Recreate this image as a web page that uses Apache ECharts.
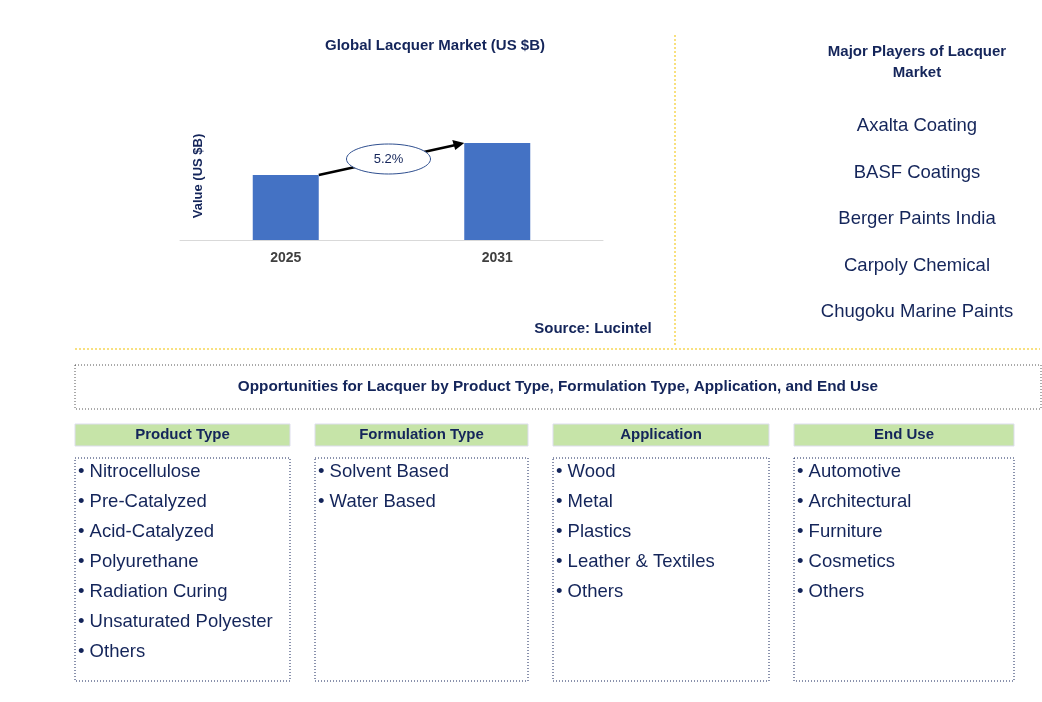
<!DOCTYPE html>
<html><head><meta charset="utf-8">
<script src="https://cdn.jsdelivr.net/npm/echarts@6/dist/echarts.min.js"></script>
<style>html,body{margin:0;padding:0;background:#fff}#c{width:1042px;height:702px}</style>
</head><body><div id="c"></div>
<script>
const years = ['2025','2031'];
const values = [6.5, 9.7];
const cagr = '5.2%';
const players = ['Axalta Coating','BASF Coatings','Berger Paints India','Carpoly Chemical','Chugoku Marine Paints'];
const headers = ['Product Type','Formulation Type','Application','End Use'];
const lists = [
 ['Nitrocellulose','Pre-Catalyzed','Acid-Catalyzed','Polyurethane','Radiation Curing','Unsaturated Polyester','Others'],
 ['Solvent Based','Water Based'],
 ['Wood','Metal','Plastics','Leather & Textiles','Others'],
 ['Automotive','Architectural','Furniture','Cosmetics','Others']
];
const F = 'Arial, "Liberation Sans", sans-serif';
const navy = '#14255a';
const chart = echarts.init(document.getElementById('c'));
const cols = [[75,290],[315,528],[553,769],[794,1014]];
const g = [];
g.push({type:'text',style:{x:435,y:46,text:'Global Lacquer Market (US $B)',font:'bold 15px '+F,fill:navy,align:'center',verticalAlign:'middle'}});
g.push({type:'text',style:{x:593,y:329,text:'Source: Lucintel',font:'bold 15px '+F,fill:navy,align:'center',verticalAlign:'middle'}});
g.push({type:'line',shape:{x1:675,y1:35,x2:675,y2:345},style:{stroke:'#f2c200',lineDash:[2,2],lineWidth:1}});
g.push({type:'line',shape:{x1:75,y1:349,x2:1040,y2:349},style:{stroke:'#f2c200',lineDash:[2,2],lineWidth:1}});
g.push({type:'text',style:{x:917,y:62,text:'Major Players of Lacquer\nMarket',font:'bold 15px '+F,fill:navy,align:'center',verticalAlign:'middle',lineHeight:21}});
players.forEach((p,i)=>g.push({type:'text',style:{x:917,y:126+i*46.5,text:p,font:'18.5px '+F,fill:navy,align:'center',verticalAlign:'middle'}}));
g.push({type:'rect',shape:{x:75,y:365,width:966,height:44},style:{fill:'none',stroke:'#555',lineDash:[1,2],lineWidth:1}});
g.push({type:'text',style:{x:558,y:387,text:'Opportunities for Lacquer by Product Type, Formulation Type, Application, and End Use',font:'bold 15.3px '+F,fill:navy,align:'center',verticalAlign:'middle'}});
cols.forEach((c,i)=>{
 g.push({type:'rect',shape:{x:c[0],y:424,width:c[1]-c[0],height:22},style:{fill:'#c6e4a8',stroke:'#dde',lineWidth:1}});
 g.push({type:'text',style:{x:(c[0]+c[1])/2,y:435,text:headers[i],font:'bold 15px '+F,fill:navy,align:'center',verticalAlign:'middle'}});
 g.push({type:'rect',shape:{x:c[0],y:458,width:c[1]-c[0],height:223},style:{fill:'none',stroke:navy,lineDash:[1,2],lineWidth:1}});
 lists[i].forEach((t,j)=>g.push({type:'text',style:{x:c[0]+3,y:472+j*30,text:'• '+t,font:'18.5px '+F,fill:navy,verticalAlign:'middle'}}));
});
g.push({type:'text',rotation:Math.PI/2,x:198,y:176,style:{text:'Value (US $B)',font:'bold 13px '+F,fill:navy,align:'center',verticalAlign:'middle'}});
chart.setOption({
 animation:false,
 grid:{left:180,right:439,top:40,bottom:462},
 xAxis:{type:'category',data:years,axisLine:{lineStyle:{color:'#d9d9d9'}},axisTick:{show:false},axisLabel:{color:'#404040',fontWeight:'bold',fontSize:14,fontFamily:F,margin:11}},
 yAxis:{type:'value',min:0,max:20,show:false,splitLine:{show:false}},
 series:[{type:'bar',data:values,barWidth:66,itemStyle:{color:'#4472c4'}}]
});
const p1 = chart.convertToPixel({gridIndex:0},[0,values[0]]);
const p2 = chart.convertToPixel({gridIndex:0},[1,values[1]]);
const x1=p1[0]+33, y1=p1[1], x2=p2[0]-33, y2=p2[1];
const extra=[
 {type:'line',shape:{x1:x1,y1:y1,x2:x2-4,y2:y2+1},style:{stroke:'#000',lineWidth:2.5}},
 {type:'polygon',shape:{points:[[x2,y2],[x2-12,y2-3],[x2-9,y2+7]]},style:{fill:'#000'}},
 {type:'ellipse',shape:{cx:(x1+x2)/2-3,cy:(y1+y2)/2,rx:42,ry:15},style:{fill:'#fff',stroke:'#2f4f8f',lineWidth:1}},
 {type:'text',style:{x:(x1+x2)/2-3,y:(y1+y2)/2,text:cagr,font:'13px '+F,fill:navy,align:'center',verticalAlign:'middle'}}
];
chart.setOption({graphic:g.concat(extra)});
</script></body></html>
